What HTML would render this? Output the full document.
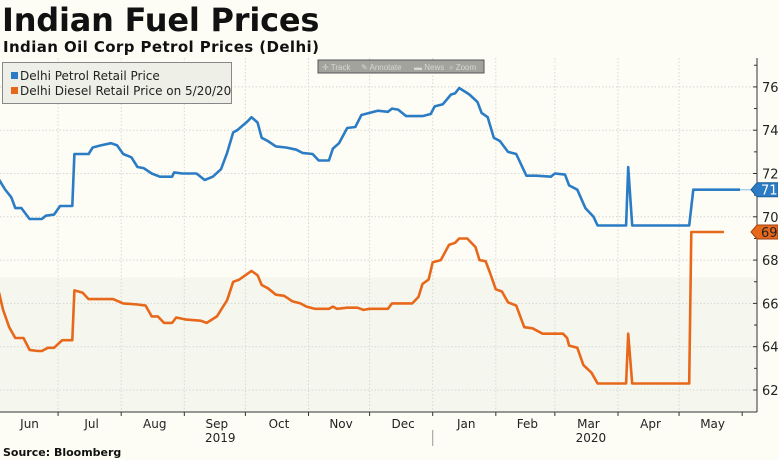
<!DOCTYPE html>
<html><head><meta charset="utf-8">
<style>
body{margin:0;width:778px;height:460px;overflow:hidden;background:#fdfdf6;font-family:"Liberation Sans",sans-serif;}
#title{position:absolute;left:2px;top:1px;font-size:32px;font-weight:bold;color:#111;font-family:"DejaVu Sans",sans-serif;letter-spacing:-0.2px}
#sub{position:absolute;left:3px;top:38px;font-size:15px;font-weight:bold;color:#111;font-family:"DejaVu Sans",sans-serif;letter-spacing:0.4px}
#src{position:absolute;left:3px;top:446px;font-size:11px;font-weight:bold;color:#111;font-family:"DejaVu Sans",sans-serif}
svg{position:absolute;left:0;top:0}
</style></head><body>
<div id="title">Indian Fuel Prices</div>
<div id="sub">Indian Oil Corp Petrol Prices (Delhi)</div>
<div id="src">Source: Bloomberg</div>
<svg id="chart" width="778" height="460"></svg>
<script>
const petrolDays=[1,4,7,9,12,16,22,24,28,31,37,38,45,47,51,56,59,62,66,69,72,76,80,86,87,91,98,102,106,110,113,116,118,123,125,128,130,133,137,142,147,150,155,158,163,165,168,172,176,179,183,187,192,194,197,201,209,213,215,219,223,225,227,232,236,238,241,244,247,251,255,260,265,272,274,279,281,285,289,293,295,309,310,312,340,342,365];
const petrolVals=[71.72,71.26,70.9,70.4,70.4,69.9,69.9,70.05,70.1,70.5,70.5,72.9,72.9,73.2,73.3,73.4,73.3,72.9,72.75,72.3,72.25,72.0,71.85,71.85,72.05,72.0,72.0,71.7,71.85,72.2,72.95,73.9,74.0,74.4,74.6,74.35,73.65,73.5,73.25,73.2,73.1,72.95,72.9,72.6,72.6,73.15,73.4,74.1,74.15,74.7,74.8,74.9,74.85,75.0,74.95,74.65,74.65,74.75,75.1,75.2,75.65,75.7,75.95,75.65,75.3,74.8,74.6,73.65,73.5,73.0,72.9,71.9,71.9,71.85,72.0,71.95,71.45,71.25,70.4,70.0,69.6,69.6,72.3,69.6,69.6,71.25,71.25];
const dieselDays=[1,3,6,9,13,16,20,22,25,28,32,37,38,42,45,57,62,69,73,76,79,82,86,88,93,100,103,108,113,116,119,125,128,130,133,137,141,145,149,152,156,163,165,167,172,177,180,183,192,194,204,207,209,212,214,218,222,225,227,231,235,237,240,242,245,248,251,255,259,263,268,273,278,280,281,285,288,292,295,309,310,312,340,341,357];
const dieselVals=[66.5,65.7,64.9,64.4,64.4,63.85,63.8,63.8,63.95,63.95,64.3,64.3,66.6,66.5,66.2,66.2,66.0,65.95,65.9,65.4,65.4,65.1,65.1,65.35,65.25,65.2,65.1,65.4,66.15,67.0,67.1,67.5,67.3,66.85,66.7,66.4,66.35,66.1,66.0,65.85,65.75,65.75,65.85,65.75,65.8,65.8,65.7,65.75,65.75,66.0,66.0,66.3,66.9,67.1,67.9,68.0,68.7,68.8,69.0,69.0,68.6,68.0,67.95,67.45,66.65,66.55,66.05,65.9,64.9,64.85,64.6,64.6,64.6,64.4,64.05,63.95,63.15,62.8,62.3,62.3,64.6,62.3,62.3,69.3,69.3];
const yTicks=[62,64,66,68,70,72,74,76];
const monthLabels=["Jun","Jul","Aug","Sep","Oct","Nov","Dec","Jan","Feb","Mar","Apr","May"];
const monthStartDays=[0,30,61,92,122,153,183,214,245,274,305,335,366];
const years=["2019","2020"];
const lastPetrol=71, lastDiesel=69;

const NS="http://www.w3.org/2000/svg";
const svg=document.getElementById('chart');
const X=d=>-3+d*2.036;
const Y=v=>390-(v-62)*21.65;
const AX=757, TOP=58, BOT=412;
function el(t,a,p){const e=document.createElementNS(NS,t);for(const k in a)e.setAttribute(k,a[k]);(p||svg).appendChild(e);return e;}

let r=el('rect',{x:0,y:Y(67.2),width:AX,height:BOT-Y(67.2),fill:'#f5f7ef'});


yTicks.forEach(v=>{
  const g=el('line',{x1:0,x2:AX,y1:Y(v),y2:Y(v),stroke:'#d8d8d2','stroke-dasharray':'1.5,2'});
  
  
  const t=el('text',{x:AX+5,y:Y(v)+5,'font-size':13,fill:'#222','font-family':'DejaVu Sans'});t.textContent=v;
  
  
  el('line',{x1:AX-4,x2:AX,y1:Y(v),y2:Y(v),stroke:'#333'});
  el('line',{x1:AX-3,x2:AX,y1:Y(v+1),y2:Y(v+1),stroke:'#333'});
});
monthStartDays.forEach((d,i)=>{
  if(i>0&&i<12){const g=el('line',{x1:X(d),x2:X(d),y1:TOP,y2:BOT,stroke:'#d8d8d2','stroke-dasharray':'1.5,2'});
  
  }
  el('line',{x1:X(d),x2:X(d),y1:BOT,y2:BOT+4,stroke:'#333'});
  if(i<12){const t=el('text',{x:(X(d)+X(monthStartDays[i+1]))/2+2,y:BOT+16,'font-size':12,fill:'#222','text-anchor':'middle','font-family':'DejaVu Sans'});t.textContent=monthLabels[i];
  
  }
});
el('line',{x1:AX,x2:AX,y1:TOP,y2:BOT,stroke:'#333'});
el('line',{x1:0,x2:AX,y1:BOT,y2:BOT,stroke:'#333'});
el('line',{x1:X(214),x2:X(214),y1:430,y2:446,stroke:'#999'});
[[X(92)+42,years[0]],[X(274)+42,years[1]]].forEach(([x,s])=>{const t=el('text',{x:x-6,y:442,'font-size':12,fill:'#222','text-anchor':'middle','font-family':'DejaVu Sans'});t.textContent=s;

});

function line(days,vals,color,name){
  const p=el('polyline',{points:days.map((d,i)=>X(d).toFixed(1)+','+Y(vals[i]).toFixed(1)).join(' '),fill:'none',stroke:color,'stroke-width':2.6,'stroke-linejoin':'round'});
  
  
}
line(petrolDays,petrolVals,'#2b7cc4','petrol-line');
line(dieselDays,dieselVals,'#e8681b','diesel-line');
el('line',{x1:X(petrolDays[petrolDays.length-1]),x2:AX,y1:Y(petrolVals[petrolVals.length-1]),y2:Y(petrolVals[petrolVals.length-1]),stroke:'#8cc0ea'});

function tag(v,val,fill,stroke,tc,name){
  const y=Y(v);
  const g=el('g',{});
  
  
  el('polygon',{points:`${AX-6},${y} ${AX},${y-7} 778,${y-7} 778,${y+7} ${AX},${y+7}`,fill:fill,stroke:stroke},g);
  const t=el('text',{x:AX+4,y:y+5,'font-size':13,fill:tc,'font-family':'DejaVu Sans'},g);t.textContent=val;
}
tag(petrolVals[petrolVals.length-1],lastPetrol,'#2b7cc4','#1a5e9a','#fff','petrol-last-tag');
tag(dieselVals[dieselVals.length-1],lastDiesel,'#e8681b','#a04010','#222','diesel-last-tag');

const lg=el('g',{});


el('rect',{x:2.5,y:62.5,width:229,height:41,fill:'#eef0e8',stroke:'#888'},lg);
el('rect',{x:11,y:72,width:7,height:7,fill:'#2b7cc4'},lg);
el('rect',{x:11,y:87,width:7,height:7,fill:'#e8681b'},lg);
let t1=el('text',{x:20,y:80,'font-size':12,fill:'#222','font-family':'DejaVu Sans'},lg);t1.textContent='Delhi Petrol Retail Price';


let t2=el('text',{x:20,y:95,'font-size':12,fill:'#222','font-family':'DejaVu Sans'},lg);t2.textContent='Delhi Diesel Retail Price on 5/20/20';


const tb=el('g',{});


el('rect',{x:318,y:60,width:166,height:13,fill:'#a3a39e',stroke:'#555'},tb);
[['✛ Track',322],['✎ Annotate',361],['▬ News',414],['⌕ Zoom',449]].forEach(([s,x])=>{const t=el('text',{x:x,y:70,'font-size':8,fill:'#d8d8d2'},tb);t.textContent=s;

});
</script>
</body></html>
